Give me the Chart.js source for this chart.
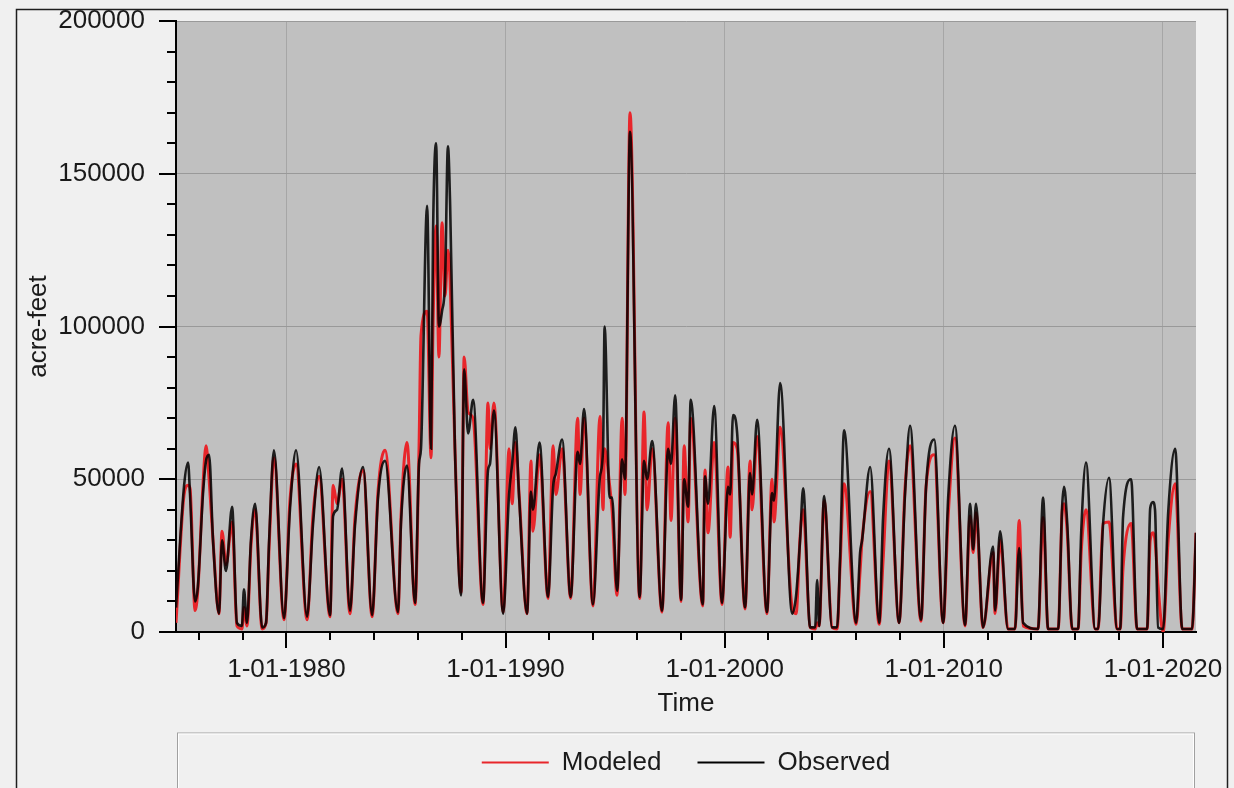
<!DOCTYPE html>
<html>
<head>
<meta charset="utf-8">
<title>Modeled vs Observed</title>
<script src="https://cdn.jsdelivr.net/npm/chart.js@4.4.1/dist/chart.umd.min.js"></script>
<style>
  html, body { margin: 0; padding: 0; background: #f0f0f0; }
  canvas { display: block; }
</style>
</head>
<body>
<canvas id="flowChart" width="1234" height="788"></canvas>
<script>
// decimal years
const times = [
  1974.96, 1975.33, 1975.51, 1975.60, 1975.83, 1975.96,
  1976.19, 1976.33, 1976.47, 1976.65, 1976.92,
  1977.06, 1977.24, 1977.52, 1977.74, 1977.97,
  1978.06, 1978.20, 1978.38, 1978.57, 1978.89,
  1979.07, 1979.21, 1979.43, 1979.89,
  1980.16, 1980.44, 1980.94,
  1981.21, 1981.49, 1981.99,
  1982.13, 1982.31, 1982.54, 1982.90,
  1983.13, 1983.50, 1983.91,
  1984.18, 1984.50, 1985.09,
  1985.23, 1985.50, 1985.87,
  1986.05, 1986.14, 1986.42, 1986.60, 1986.69, 1986.83, 1986.96,
  1987.10, 1987.24, 1987.37, 1987.47, 1987.69, 1987.97,
  1988.11, 1988.29, 1988.52, 1988.97,
  1989.20, 1989.29, 1989.47, 1989.89,
  1990.16, 1990.30, 1990.45, 1990.62, 1990.98,
  1991.16, 1991.25, 1991.55, 1991.94,
  1992.17, 1992.30, 1992.58, 1992.97,
  1993.29, 1993.40, 1993.58, 1993.99,
  1994.31, 1994.45, 1994.52, 1994.75, 1994.86, 1995.09,
  1995.32, 1995.45, 1995.68, 1996.12,
  1996.32, 1996.46, 1996.69, 1997.14,
  1997.42, 1997.55, 1997.74, 1998.01,
  1998.15, 1998.33, 1998.45, 1999.00,
  1999.10, 1999.24, 1999.52, 1999.88,
  2000.15, 2000.25, 2000.38, 2000.57, 2000.93,
  2001.16, 2001.25, 2001.48, 2001.93,
  2002.16, 2002.25, 2002.53, 2003.08, 2003.26,
  2003.44, 2003.58, 2003.90, 2004.13, 2004.22, 2004.31,
  2004.54, 2004.90, 2005.13,
  2005.27, 2005.45, 2006.00,
  2006.18, 2006.27, 2006.64, 2007.05,
  2007.23, 2007.50, 2007.96,
  2008.23, 2008.46, 2008.96,
  2009.19, 2009.56, 2009.97,
  2010.20, 2010.51, 2010.97,
  2011.20, 2011.34, 2011.47, 2011.79,
  2012.25, 2012.34, 2012.57, 2012.93,
  2013.25, 2013.44, 2013.62,
  2014.30, 2014.53, 2014.76,
  2015.22, 2015.40, 2015.49, 2015.63, 2015.86,
  2016.13, 2016.27, 2016.49, 2016.91,
  2017.04, 2017.27, 2017.54, 2017.91,
  2018.05, 2018.18, 2018.55, 2018.82,
  2019.28, 2019.42, 2019.55, 2019.64, 2019.78, 2020.01,
  2020.24, 2020.56, 2020.88, 2021.33, 2021.51
];

const observed = [
  8000, 48000, 55500, 45000, 10000, 15000,
  45000, 56000, 58000, 30000, 6000,
  30000, 20000, 41000, 3000, 2000,
  14000, 3000, 30000, 42000, 1500,
  3000, 30000, 59500, 4500,
  40000, 59500, 5000,
  35000, 54000, 5500,
  38000, 40000, 53500, 7000,
  35000, 54000, 5500,
  44000, 56000, 6500,
  36000, 54500, 9500,
  55000, 60000, 139500, 60000, 130000, 160000, 100000,
  105000, 115000, 159000, 140000, 60000, 12000,
  86000, 65000, 76000, 9500,
  53000, 55000, 72500, 6000,
  45000, 55000, 67000, 44000, 6000,
  46000, 40000, 62000, 11500,
  47500, 52000, 63000, 11500,
  59000, 55000, 73000, 9000,
  51000, 60000, 100000, 44000, 44000, 13500,
  56500, 50000, 163700, 11500,
  56000, 50000, 62500, 7000,
  60000, 55000, 77500, 10500,
  50000, 41000, 76000, 9000,
  51000, 42000, 74000, 9500,
  47500, 45000, 71000, 65000, 8000,
  52000, 45000, 69500, 6500,
  45500, 43000, 81500, 6000, 12000,
  30000, 47000, 1500, 1500, 17000, 2000,
  44500, 1500, 1500,
  25000, 66000, 3000,
  26000, 30000, 54000, 3000,
  37500, 60000, 3000,
  45000, 67500, 4000,
  47500, 63000, 3000,
  44000, 67500, 2300,
  42000, 27000, 42000, 1500,
  28000, 7000, 33000, 1000,
  1000, 27500, 3000,
  1000, 44000, 1000,
  1000, 41000, 47500, 36000, 1000,
  1000, 32500, 55500, 1000,
  1000, 35500, 50500, 1000,
  1000, 37500, 50000, 1000,
  1000, 40500, 42500, 40000, 1500, 1000,
  39000, 60000, 1000, 1000, 32500
];

const modeled = [
  3000, 45000, 48000, 47000, 7000, 14000,
  48000, 61000, 50000, 30000, 6000,
  33000, 22000, 36000, 2000, 1000,
  8000, 2000, 28000, 40000, 1000,
  3000, 28000, 57000, 4000,
  43000, 55000, 4000,
  38000, 51000, 5000,
  48000, 42000, 50000, 6000,
  37500, 53000, 5000,
  46000, 59500, 6000,
  38000, 62000, 9000,
  60000, 97000, 105000, 57000, 100000, 133000, 90000,
  134000, 110000, 125000, 115000, 60000, 13000,
  90000, 72000, 70000, 9000,
  75000, 60000, 75000, 6500,
  60000, 42000, 62000, 45000, 6000,
  56000, 33000, 58000, 11000,
  61000, 45000, 60000, 11000,
  70000, 45000, 70000, 8500,
  70500, 40000, 60000, 48000, 40000, 12000,
  70000, 45000, 170000, 11000,
  72000, 40000, 60000, 6500,
  68500, 36500, 70000, 10000,
  61000, 36000, 70000, 8500,
  53000, 32500, 62000, 9000,
  54000, 31000, 62000, 60000, 7500,
  56000, 40000, 64000, 6000,
  50000, 36000, 67000, 8000, 6000,
  31000, 40000, 1500, 1000, 3000, 2000,
  43000, 1500, 1000,
  22000, 48500, 2500,
  20000, 30000, 46000, 2500,
  23500, 56000, 3000,
  47000, 61000, 3500,
  47500, 58000, 3000,
  38000, 63500, 2000,
  38000, 26000, 39000, 1500,
  26000, 6000, 30000, 1000,
  1000, 36500, 2000,
  1000, 37500, 1000,
  1000, 39000, 42000, 33000, 1000,
  1000, 26000, 40000, 1000,
  1000, 35500, 36000, 1000,
  1000, 21000, 35500, 1000,
  1000, 30000, 32500, 30000, 15000, 0,
  30000, 48500, 1000, 1000, 32500
];

const yTickLabels = [0, 50000, 100000, 150000, 200000];
const xTickYears = [1980, 1990, 2000, 2010, 2020];

Chart.defaults.font.family = "'Liberation Sans', Arial, sans-serif";
Chart.defaults.font.size = 26;
Chart.defaults.color = '#1a1a1a';

// grey plot area, outer frame and the legend box
const chartFrame = {
  id: 'chartFrame',
  beforeDraw(chart) {
    const {ctx, chartArea: a, legend} = chart;
    ctx.save();
    ctx.fillStyle = '#c0c0c0';
    ctx.fillRect(a.left, a.top, a.right - a.left, a.bottom - a.top);
    ctx.strokeStyle = '#1e1e1e';
    ctx.lineWidth = 1.5;
    ctx.strokeRect(16.5, 9.5, 1211, 800);
    ctx.lineWidth = 1;
    ctx.strokeStyle = '#a0a0a0';
    ctx.strokeRect(legend.left + 1.5, legend.top + 19.5, legend.width - 3, 80);
    ctx.strokeStyle = '#ffffff';
    ctx.strokeRect(legend.left + 2.5, legend.top + 20.5, legend.width - 5, 80);
    ctx.restore();
  }
};

// long ticks at labelled values, short ones in between
const tickMarks = {
  id: 'tickMarks',
  afterDraw(chart) {
    const {ctx, chartArea: a, scales: {x, y}} = chart;
    ctx.save();
    ctx.strokeStyle = '#000';
    ctx.lineWidth = 2;
    ctx.beginPath();
    x.ticks.forEach(t => {
      const px = Math.round(x.getPixelForValue(t.value));
      const len = xTickYears.includes(t.value) ? 16 : 8;
      ctx.moveTo(px, a.bottom);
      ctx.lineTo(px, a.bottom + len);
    });
    y.ticks.forEach(t => {
      const py = Math.round(y.getPixelForValue(t.value));
      const len = yTickLabels.includes(t.value) ? 17 : 9;
      ctx.moveTo(a.left, py);
      ctx.lineTo(a.left - len, py);
    });
    ctx.stroke();
    ctx.restore();
  }
};

new Chart(document.getElementById('flowChart'), {
  type: 'line',
  data: {
    datasets: [{
      label: 'Modeled',
      data: times.map((t, i) => ({x: t, y: modeled[i]})),
      borderColor: '#e8262b',
      backgroundColor: '#e8262b',
      borderWidth: 3,
      order: 2
    }, {
      label: 'Observed',
      data: times.map((t, i) => ({x: t, y: observed[i]})),
      borderColor: 'rgba(0,0,0,0.85)',
      backgroundColor: '#000000',
      borderWidth: 2.6,
      order: 1
    }]
  },
  options: {
    responsive: false,
    animation: false,
    elements: {
      point: { radius: 0 },
      line: { cubicInterpolationMode: 'monotone' }
    },
    layout: { padding: { left: 0, right: 38, top: 21, bottom: 2.5 } },
    scales: {
      x: {
        type: 'linear',
        min: 1974.96,
        max: 2021.51,
        afterFit: s => { s.height = 81.5; },
        border: { color: '#000', width: 2 },
        grid: {
          tickLength: 22,
          tickColor: 'rgba(0,0,0,0)',
          color: c => c.tick && xTickYears.includes(c.tick.value) ? '#a6a6a6' : 'rgba(0,0,0,0)'
        },
        ticks: {
          stepSize: 2,
          includeBounds: false,
          autoSkip: false,
          maxRotation: 0,
          minRotation: 0,
          padding: 0,
          callback: v => xTickYears.includes(v) ? '1-01-' + v : ''
        },
        title: { display: true, text: 'Time', padding: { top: 0, bottom: -6 } }
      },
      y: {
        min: 0,
        max: 200000,
        afterFit: s => { s.width = 176; },
        border: { color: '#000', width: 2 },
        grid: {
          tickLength: 31,
          tickColor: 'rgba(0,0,0,0)',
          color: c => c.tick && yTickLabels.includes(c.tick.value) ? '#999999' : 'rgba(0,0,0,0)'
        },
        ticks: {
          stepSize: 10000,
          autoSkip: false,
          padding: 0,
          callback: v => yTickLabels.includes(v) ? String(v) : ''
        },
        title: { display: true, text: 'acre-feet', padding: { top: 23, bottom: 0 } }
      }
    },
    plugins: {
      legend: {
        position: 'bottom',
        fullSize: false,
        labels: {
          boxWidth: 67,
          boxHeight: 2,
          padding: 36,
          sort: (a, b) => a.datasetIndex - b.datasetIndex,
          generateLabels: chart => Chart.defaults.plugins.legend.labels.generateLabels(chart)
            .map(item => Object.assign(item, { lineWidth: 0 }))
        }
      },
      tooltip: { enabled: false }
    }
  },
  plugins: [chartFrame, tickMarks]
});
</script>
</body>
</html>
